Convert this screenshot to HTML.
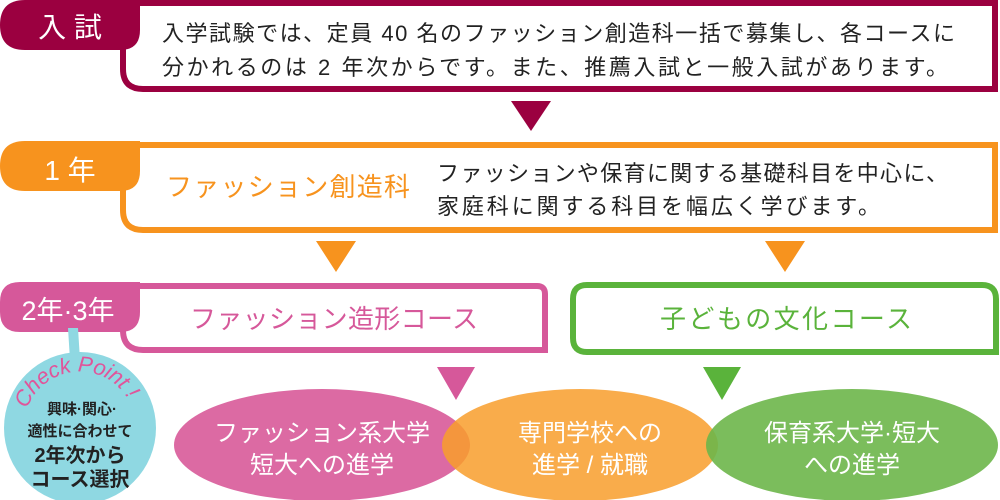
<!DOCTYPE html>
<html><head><meta charset="utf-8"><style>
html,body{margin:0;padding:0;background:#fff;}
svg{display:block;}
text{font-family:"Liberation Sans","Noto Sans CJK JP",sans-serif;}
</style></head><body>
<svg width="1000" height="500" viewBox="0 0 1000 500" xmlns="http://www.w3.org/2000/svg">
<!-- 入試 -->
<path d="M123 3 H995 V89 H143 Q123 89 123 69 Z" fill="#fff" stroke="#9b0040" stroke-width="6"/>
<path d="M25 0 H140 V30 Q140 50 120 50 H25 Q0 50 0 25 Q0 0 25 0 Z" fill="#9b0040"/>
<text x="70" y="37" font-size="28" fill="#fff" text-anchor="middle">入 試</text>
<text x="162" y="41" font-size="22" fill="#222" textLength="793" lengthAdjust="spacing">入学試験では、定員 40 名のファッション創造科一括で募集し、各コースに</text>
<text x="162" y="75" font-size="22" fill="#222" textLength="786" lengthAdjust="spacing">分かれるのは 2 年次からです。また、推薦入試と一般入試があります。</text>
<polygon points="511,101 551,101 531,131" fill="#9b0040"/>
<!-- 1年 -->
<path d="M123 145 H995 V230 H143 Q123 230 123 210 Z" fill="#fff" stroke="#f7931e" stroke-width="6"/>
<path d="M25 141 H140 V171 Q140 191 120 191 H25 Q0 191 0 166 Q0 141 25 141 Z" fill="#f7931e"/>
<text x="70" y="180" font-size="28" fill="#fff" text-anchor="middle">1 年</text>
<text x="166" y="196" font-size="26" fill="#f7931e" textLength="244" lengthAdjust="spacing">ファッション創造科</text>
<text x="437" y="181" font-size="22" fill="#222" textLength="511" lengthAdjust="spacing">ファッションや保育に関する基礎科目を中心に、</text>
<text x="437" y="214" font-size="22" fill="#222" textLength="443" lengthAdjust="spacing">家庭科に関する科目を幅広く学びます。</text>
<polygon points="316,241 356,241 336,272" fill="#f7931e"/>
<polygon points="765,241 805,241 785,272" fill="#f7931e"/>
<!-- 2年3年 pink box -->
<path d="M123 286 H537 Q545 286 545 294 V350 H143 Q123 350 123 330 Z" fill="#fff" stroke="#d6589a" stroke-width="6"/>
<path d="M20 282 H140 V312 Q140 332 120 332 H20 Q0 332 0 312 V302 Q0 282 20 282 Z" fill="#d6589a"/>
<text x="68" y="320" font-size="27" fill="#fff" text-anchor="middle">2年·3年</text>
<text x="190" y="328" font-size="26" fill="#d6589a" textLength="288" lengthAdjust="spacing">ファッション造形コース</text>
<!-- green box -->
<path d="M587 285 H982 Q996 285 996 299 V352 H587 Q573 352 573 338 V299 Q573 285 587 285 Z" fill="#fff" stroke="#5ab33b" stroke-width="6"/>
<text x="660" y="328" font-size="26" fill="#5ab33b" textLength="252" lengthAdjust="spacing">子どもの文化コース</text>
<polygon points="437,367 475,367 456,400" fill="#d6589a"/>
<polygon points="703,367 741,367 722,400" fill="#5ab33b"/>
<!-- ellipses -->
<ellipse cx="322" cy="445" rx="148" ry="56" fill="#dc6aa3"/>
<ellipse cx="580" cy="445" rx="138" ry="56" fill="#f89d2c" fill-opacity="0.85"/>
<ellipse cx="852" cy="445" rx="146" ry="56" fill="#6db64a" fill-opacity="0.9"/>
<text x="322" y="441" font-size="24" fill="#fff" text-anchor="middle">ファッション系大学</text>
<text x="322" y="473" font-size="24" fill="#fff" text-anchor="middle">短大への進学</text>
<text x="590" y="441" font-size="24" fill="#fff" text-anchor="middle">専門学校への</text>
<text x="590" y="473" font-size="24" fill="#fff" text-anchor="middle">進学 / 就職</text>
<text x="852" y="441" font-size="24" fill="#fff" text-anchor="middle">保育系大学·短大</text>
<text x="852" y="473" font-size="24" fill="#fff" text-anchor="middle">への進学</text>
<!-- check point circle -->
<polygon points="68,328 78,328 80,360 70,360" fill="#8fd8e2"/>
<circle cx="80" cy="428" r="76" fill="#8fd8e2"/>
<path id="arc" d="M27 409 A56 56 0 0 1 128.5 400" fill="none"/>
<text font-size="22" fill="#e0559a" font-style="italic" font-family="Liberation Serif,serif"><textPath href="#arc" startOffset="0" textLength="127" lengthAdjust="spacing">Check Point !</textPath></text>
<text x="82" y="414" font-size="15" fill="#222" text-anchor="middle" font-weight="bold">興味·関心·</text>
<text x="80" y="436" font-size="15" fill="#222" text-anchor="middle" font-weight="bold">適性に合わせて</text>
<text x="80" y="462" font-size="20" fill="#222" text-anchor="middle" font-weight="bold">2年次から</text>
<text x="80" y="486" font-size="20" fill="#222" text-anchor="middle" font-weight="bold">コース選択</text>
</svg>
</body></html>
